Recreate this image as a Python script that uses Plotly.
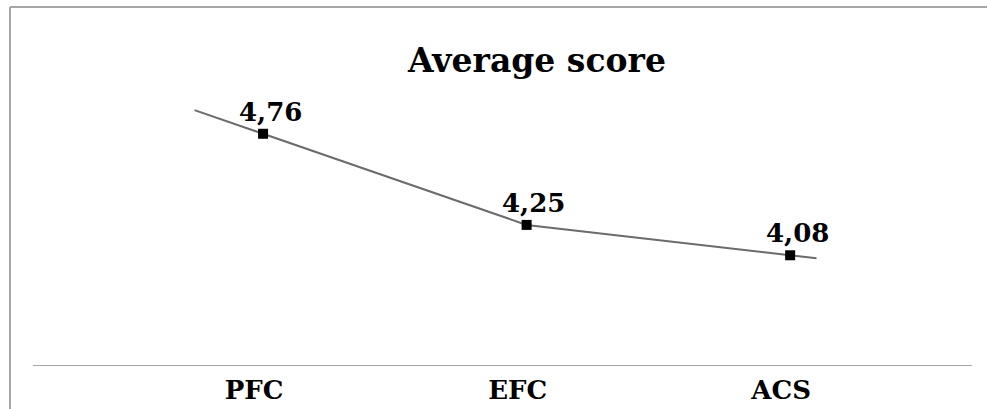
import plotly.graph_objects as go

categories = ["PFC", "EFC", "ACS"]
scores = [4.76, 4.25, 4.08]
score_labels = ["4,76", "4,25", "4,08"]
title_text = "Average score"

W, H = 987, 409
ML, MR, MT, MB = 33, 15, 100, 44
plot_w = W - ML - MR
plot_h = H - MT - MB

xs = list(range(len(categories)))
overhang_l, overhang_r = 0.26, 0.10
# line extended slightly beyond first and last points (as in the original)
y_left = scores[0] + (scores[0] - scores[1]) * overhang_l
y_right = scores[-1] + (scores[-1] - scores[-2]) * overhang_r
line_x = [xs[0] - overhang_l] + xs + [xs[-1] + overhang_r]
line_y = [y_left] + scores + [y_right]

FONT = "DejaVu Serif"

fig = go.Figure()
fig.add_trace(go.Scatter(x=line_x, y=line_y, mode="lines",
                         line=dict(color="#6b6b6b", width=2), hoverinfo="skip",
                         showlegend=False))
fig.add_trace(go.Scatter(x=xs, y=scores, mode="markers",
                         marker=dict(symbol="square", size=10, color="black"),
                         showlegend=False))
for x, y, t in zip(xs, scores, score_labels):
    fig.add_annotation(x=x, y=y, text=f"<b>{t}</b>", showarrow=False,
                       xanchor="center", yanchor="bottom", xshift=7, yshift=5,
                       font=dict(family=FONT, size=26, color="black"))

frame_x = (10 - ML) / plot_w
frame_top = (H - MB - 7) / plot_h
frame_bottom = (H - MB - H) / plot_h
frame_right = (W - ML) / plot_w
fig.add_shape(type="line", xref="paper", yref="paper",
              x0=frame_x, x1=frame_x, y0=frame_bottom, y1=frame_top,
              line=dict(color="#a6a6a6", width=2))
fig.add_shape(type="line", xref="paper", yref="paper",
              x0=frame_x, x1=frame_right, y0=frame_top, y1=frame_top,
              line=dict(color="#a6a6a6", width=2))

fig.update_layout(
    width=W, height=H,
    margin=dict(l=ML, r=MR, t=MT, b=MB, autoexpand=False),
    paper_bgcolor="white", plot_bgcolor="white",
    title=dict(text=f"<b>{title_text}</b>", x=(537 - ML) / plot_w, xref="paper",
               xanchor="center", y=1 - 60 / H, yref="container", yanchor="middle",
               font=dict(family=FONT, size=33, color="black")),
    xaxis=dict(range=[-0.873, 2.69], tickmode="array", tickvals=xs,
               ticktext=[f"<b>{c}</b>" for c in categories],
               showgrid=False, zeroline=False, showline=True, automargin=False,
               linecolor="#a6a6a6", linewidth=1, ticks="",
               ticklabelshift=-9, ticklabelstandoff=2,
               tickfont=dict(family=FONT, size=26, color="black")),
    yaxis=dict(range=[3.466, 4.949], visible=False, showgrid=False, zeroline=False,
               automargin=False),
)

fig.write_html("out.html")
